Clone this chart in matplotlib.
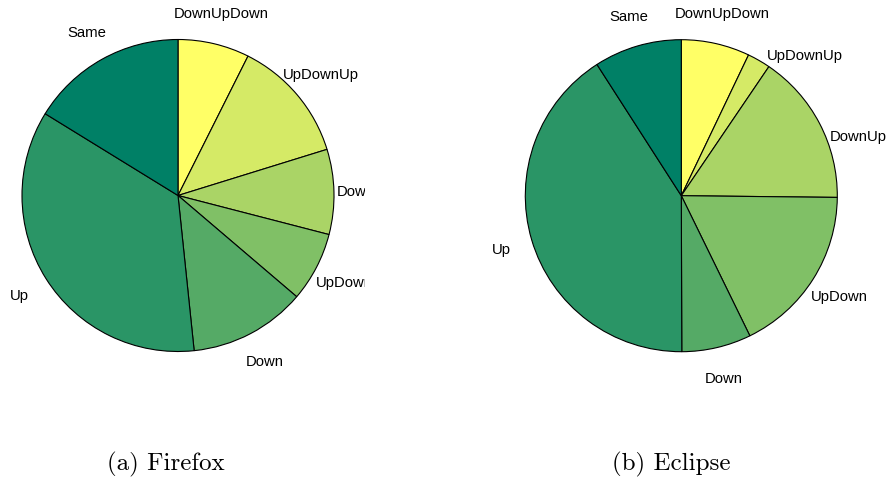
import numpy as np
import matplotlib
matplotlib.use("Agg")
import matplotlib.pyplot as plt

# slice order: clockwise from 12 o'clock
categories = ["DownUpDown", "UpDownUp", "DownUp", "UpDown", "Down", "Up", "Same"]
firefox = [7.4, 12.8, 8.8, 7.2, 12.1, 35.4, 16.2]
eclipse = [7.1, 2.4, 15.7, 17.6, 7.2, 41.0, 9.1]
captions = ["(a) Firefox", "(b) Eclipse"]

# label nudges (degrees, clockwise) used in the original to keep labels apart
nudge_firefox = [0, 0, 0, 0, 0, 0, 0]
nudge_eclipse = [0, 11.3, 9.0, 0, 0, 0, 0]

# summer colormap, yellow for the first slice down to dark green for the last
colors = plt.cm.summer(np.linspace(1, 0, len(categories)))

W, H = 892, 481
fig = plt.figure(figsize=(W / 100, H / 100), dpi=100)

R = 156.0  # pie radius in pixels


def draw_pie(values, nudges, cx, cy, x0, x1, y0, y1):
    # axes box in pixels (x0..x1, y0..y1 from top), pie centre (cx, cy)
    ax = fig.add_axes([x0 / W, 1 - y1 / H, (x1 - x0) / W, (y1 - y0) / H])
    ax.pie(values, colors=colors, startangle=90, counterclock=False,
           wedgeprops=dict(edgecolor="black", linewidth=0.8))
    ax.set_aspect("auto")
    ax.set_xlim((x0 - cx) / R, (x1 - cx) / R)
    ax.set_ylim((cy - y1) / R, (cy - y0) / R)
    ax.axis("off")

    total = float(sum(values))
    edges = np.concatenate([[0], np.cumsum(values)]) / total * 360
    for lab, a, b, n in zip(categories, edges[:-1], edges[1:], nudges):
        mid = np.deg2rad((a + b) / 2 + n)
        ax.text(1.2 * np.sin(mid), 1.2 * np.cos(mid), lab,
                ha="center", va="center", fontsize=10.7,
                family="Liberation Sans", clip_on=True)
    return ax


draw_pie(firefox, nudge_firefox, 178, 196.5, 0, 365, 0, 420)
draw_pie(eclipse, nudge_eclipse, 681.3, 196.7, 446, 892, 0, 420)

for x, cap in zip([166, 671], captions):
    fig.text(x / W, 1 - 464 / H, cap, ha="center", va="center",
             fontsize=18, family="cmr10")

fig.savefig("out.png", dpi=100)
